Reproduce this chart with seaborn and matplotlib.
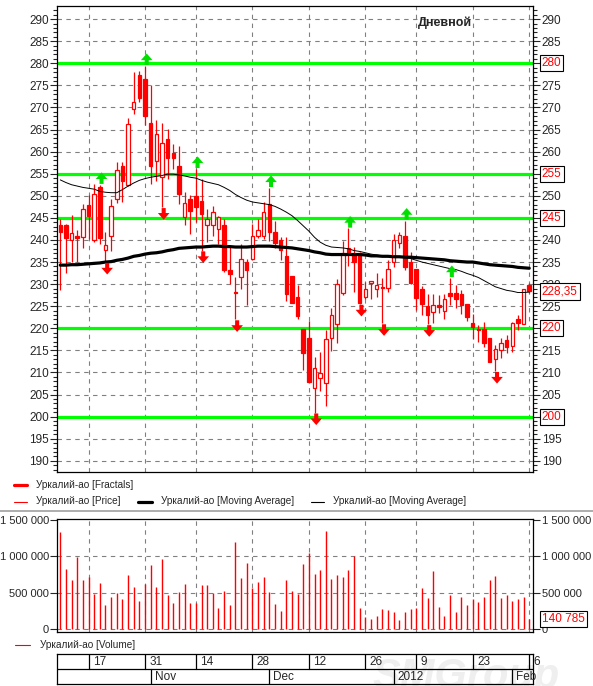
import numpy as np
import pandas as pd
import seaborn as sns
import matplotlib.pyplot as plt
from matplotlib.lines import Line2D
from matplotlib.path import Path
from matplotlib.ticker import MultipleLocator, FixedLocator, FuncFormatter

sns.set_style("white")
plt.rcParams['font.family'] = ['Liberation Sans', 'DejaVu Sans']

# daily candles, Oct 10 2011 .. Feb 6 2012 (trading day index)
opens = [243.3, 243.3, 240.0, 240.8, 240.6, 248.0, 240.1, 252.1, 237.8, 240.9,
         249.3, 256.8, 252.5, 269.6, 277.4, 276.4, 266.5, 257.8, 254.2, 262.8,
         259.8, 256.8, 245.2, 249.2, 249.9, 248.9, 243.4, 243.4, 242.4, 243.4,
         233.3, 228.3, 231.6, 234.9, 235.8, 240.9, 240.9, 248.2, 241.9, 240.1,
         236.3, 231.8, 227.0, 219.8, 217.9, 206.4, 208.7, 207.7, 217.8, 220.9,
         227.9, 238.2, 236.7, 237.1, 227.0, 230.3, 229.0, 229.4, 229.2, 235.0,
         239.4, 241.0, 234.9, 233.5, 228.8, 225.0, 223.6, 225.2, 223.9, 228.1,
         227.9, 227.7, 225.4, 221.1, 219.9, 219.8, 217.9, 213.0, 215.1, 217.3,
         216.0, 222.1, 220.9, 229.7]
highs = [244.8, 243.7, 245.7, 242.2, 248.2, 250.1, 252.7, 252.5, 241.8, 249.2,
         257.6, 257.6, 267.6, 278.0, 278.3, 279.4, 275.1, 267.1, 266.5, 265.1,
         261.7, 261.2, 250.8, 250.1, 256.1, 253.7, 247.0, 247.8, 245.4, 244.8,
         238.4, 231.6, 239.1, 235.8, 243.7, 244.8, 248.5, 251.8, 244.2, 240.6,
         240.6, 231.8, 229.7, 219.8, 221.7, 213.4, 214.7, 219.6, 224.5, 231.2,
         239.7, 242.6, 238.4, 237.2, 230.5, 230.8, 232.6, 231.4, 235.4, 241.4,
         241.8, 244.4, 237.3, 233.5, 229.5, 227.7, 227.7, 227.5, 227.7, 231.4,
         229.7, 228.6, 225.4, 223.3, 220.7, 221.5, 217.9, 216.2, 217.8, 218.5,
         221.5, 223.0, 229.0, 230.3]
lows = [228.6, 232.6, 235.0, 235.0, 238.2, 240.3, 239.5, 239.1, 235.0, 237.6,
        248.3, 248.5, 252.3, 268.6, 271.3, 266.0, 252.7, 253.4, 247.4, 253.8,
        256.1, 248.2, 243.3, 241.4, 244.0, 237.6, 239.5, 241.0, 239.1, 232.7,
        230.0, 222.0, 229.0, 225.2, 235.4, 240.4, 240.3, 239.7, 238.2, 235.4,
        226.2, 225.7, 222.2, 210.5, 207.9, 200.9, 205.7, 202.5, 214.9, 216.6,
        227.5, 234.1, 228.2, 225.5, 226.7, 226.7, 227.1, 221.1, 228.2, 233.9,
        238.2, 233.1, 230.1, 224.1, 223.1, 220.9, 221.2, 223.5, 222.2, 225.2,
        224.6, 223.3, 221.6, 217.5, 216.9, 215.8, 212.3, 210.3, 213.2, 214.3,
        214.7, 219.6, 220.9, 228.1]
closes = [241.8, 240.4, 241.6, 240.4, 247.0, 245.5, 250.4, 240.4, 238.9, 247.6,
          255.8, 253.4, 266.2, 271.3, 272.2, 268.1, 256.7, 264.0, 261.9, 258.5,
          258.5, 250.4, 248.4, 246.5, 247.4, 245.9, 244.8, 246.4, 245.2, 233.1,
          232.3, 228.1, 235.8, 233.3, 241.0, 242.2, 246.4, 241.8, 239.4, 237.8,
          227.7, 225.7, 222.8, 214.5, 207.9, 210.9, 209.8, 217.5, 223.1, 230.1,
          237.0, 237.0, 234.9, 225.7, 229.0, 230.8, 229.7, 229.2, 233.5, 239.9,
          241.2, 233.9, 230.3, 226.9, 225.6, 223.0, 225.2, 224.8, 226.7, 227.3,
          226.6, 225.2, 222.6, 220.2, 219.7, 216.6, 212.3, 215.4, 216.6, 215.8,
          221.2, 221.3, 228.8, 228.35]
volume = [1336000, 825000, 675000, 994000, 675000, 720000, 483000, 638000, 333000, 442000,
          502000, 415000, 748000, 584000, 388000, 625000, 880000, 584000, 962000, 470000,
          365000, 506000, 620000, 365000, 365000, 606000, 606000, 502000, 292000, 524000,
          337000, 1199000, 707000, 912000, 570000, 647000, 720000, 506000, 351000, 251000,
          675000, 524000, 483000, 894000, 1040000, 757000, 812000, 1345000, 689000, 743000,
          720000, 812000, 1008000, 292000, 164000, 137000, 182000, 278000, 264000, 233000,
          128000, 237000, 278000, 296000, 565000, 429000, 798000, 310000, 182000, 470000,
          237000, 442000, 333000, 415000, 374000, 442000, 675000, 730000, 429000, 470000,
          388000, 415000, 442000, 140785]
ma_slow = [234.3, 234.3, 234.4, 234.4, 234.5, 234.6, 234.7, 234.8, 235.0, 235.1,
           235.4, 235.6, 235.9, 236.3, 236.5, 236.8, 237.0, 237.1, 237.3, 237.6,
           237.8, 238.1, 238.2, 238.3, 238.4, 238.4, 238.5, 238.6, 238.6, 238.5,
           238.5, 238.4, 238.4, 238.4, 238.5, 238.6, 238.6, 238.6, 238.5, 238.4,
           238.3, 238.2, 238.0, 237.8, 237.6, 237.3, 237.1, 236.8, 236.7, 236.7,
           236.7, 236.7, 236.7, 236.7, 236.6, 236.4, 236.4, 236.3, 236.3, 236.2,
           236.2, 236.1, 236.1, 236.0, 235.9, 235.8, 235.7, 235.6, 235.5, 235.3,
           235.2, 235.1, 235.0, 235.0, 234.8, 234.6, 234.4, 234.3, 234.2, 234.1,
           234.0, 233.8, 233.7, 233.6]
ma_fast = [253.6, 253.0, 252.5, 252.2, 251.9, 251.7, 251.5, 251.0, 250.8, 250.7,
           250.7, 251.4, 252.2, 252.9, 253.5, 253.9, 254.2, 254.4, 254.6, 254.9,
           254.9, 254.7, 254.5, 254.2, 254.0, 253.5, 253.1, 252.8, 252.5, 251.9,
           251.2, 250.3, 249.6, 249.0, 248.6, 248.4, 248.2, 248.0, 247.6, 247.0,
           246.3, 245.5, 244.4, 243.2, 242.0, 240.6, 239.5, 238.8, 238.4, 238.3,
           238.2, 238.0, 237.6, 237.4, 237.1, 236.8, 236.6, 236.4, 236.3, 236.2,
           236.1, 236.0, 235.8, 235.4, 235.0, 234.7, 234.4, 234.1, 233.8, 233.5,
           233.3, 232.9, 232.4, 232.0, 231.5, 230.8, 230.1, 229.4, 229.0, 228.6,
           228.4, 228.1, 228.1, 228.2]
fractal_up = [7, 15, 24, 37, 51, 61, 69]
fractal_down = [8, 18, 25, 31, 45, 53, 57, 65, 77]
level_lines = [280, 255, 245, 220, 200]

day_ticks = [5, 15, 24, 34, 44, 54, 63, 73, 83]
day_labels = ['17', '31', '14', '28', '12', '26', '9', '23', '6']
month_starts = [16, 37, 59, 80]
month_labels = ['Nov', 'Dec', '2012', 'Feb']

df = pd.DataFrame({'open': opens, 'high': highs, 'low': lows, 'close': closes,
                   'volume': volume, 'ma_slow': ma_slow, 'ma_fast': ma_fast})
df['idx'] = np.arange(len(df))

RED = '#ff0000'
GREEN = '#00ff00'
GRID = '#808080'
W, H = 593, 686
LEG_FS = 7.2


def fx(px):
    return px / W


def fy(py):
    return 1 - py / H


def ru(v):
    return f'{int(v):,}'.replace(',', ' ')


fig = plt.figure(figsize=(W / 100, H / 100), dpi=100)
xlim = (-0.53, 83.72)

# watermark, behind everything
fig.text(fx(372), fy(688), 'SMGroup', fontsize=30, fontstyle='italic', fontweight='bold',
         color='#efefef', ha='left', va='baseline', zorder=-1)

# ---------------- price panel
ax = fig.add_axes([fx(57.3), fy(472.3), fx(476), 466 / H])
ax.set_xlim(*xlim)
ax.set_ylim(187.4, 292.9)
for y in range(190, 295, 5):
    ax.axhline(y, color=GRID, lw=0.8, ls=(0, (4, 4)), zorder=1)
for t in day_ticks:
    ax.axvline(t, color=GRID, lw=0.8, ls=(0, (4, 4)), zorder=1)
for y in level_lines:
    ax.axhline(y, color=GREEN, lw=2.3, zorder=2)

ax.vlines(df['idx'], df['low'], df['high'], color=RED, lw=0.9, zorder=3)
up = df['close'] > df['open']
body_lo = np.minimum(df['open'], df['close'])
body_h = np.maximum((df['close'] - df['open']).abs(), 0.12)
ax.bar(df['idx'][up], body_h[up], bottom=body_lo[up], width=0.62,
       facecolor='white', edgecolor=RED, lw=0.9, zorder=4)
ax.bar(df['idx'][~up], body_h[~up], bottom=body_lo[~up], width=0.62,
       facecolor=RED, edgecolor=RED, lw=0.9, zorder=4)

sns.lineplot(data=df, x='idx', y='ma_slow', ax=ax, color='black', lw=2.3, zorder=5)
sns.lineplot(data=df, x='idx', y='ma_fast', ax=ax, color='black', lw=0.7, zorder=5)

up_arrow = Path([(-0.35, -1), (0.35, -1), (0.35, -0.15), (1, -0.15), (0, 1),
                 (-1, -0.15), (-0.35, -0.15), (-0.35, -1)])
down_arrow = Path([(-0.35, 1), (0.35, 1), (0.35, 0.15), (1, 0.15), (0, -1),
                   (-1, 0.15), (-0.35, 0.15), (-0.35, 1)])
fu = df.loc[fractal_up]
fd = df.loc[fractal_down]
sns.scatterplot(x=fu['idx'] + 0.3, y=fu['high'] + 1.5, ax=ax, marker=up_arrow,
                s=70, color='#00e000', edgecolor='none', zorder=6)
sns.scatterplot(x=fd['idx'] + 0.3, y=fd['low'] - 1.5, ax=ax, marker=down_arrow,
                s=70, color=RED, edgecolor='none', zorder=6)

ax.set_xlabel('')
ax.set_ylabel('')
ax.set_xticks([])
ax.yaxis.set_major_locator(MultipleLocator(5))
ax.yaxis.set_minor_locator(MultipleLocator(1))
ax.tick_params(axis='y', which='major', left=True, right=True, labelleft=True,
               labelright=True, length=5, width=0.8, pad=1, labelsize=8.5)
ax.tick_params(axis='y', which='minor', left=True, right=True, length=3, width=0.8)
for s in ax.spines.values():
    s.set_color('black')
    s.set_linewidth(0.9)

ax.text(0.757, 0.965, 'Дневной', transform=ax.transAxes,
        fontsize=9, fontweight='bold', ha='left', va='center')

box = dict(boxstyle='square,pad=0.18', facecolor='white', edgecolor='black', lw=0.8)
for y in level_lines:
    ax.text(1.0176, y, f'{y}', transform=ax.get_yaxis_transform(), color=RED,
            fontsize=8.5, ha='left', va='center', bbox=box, zorder=10, clip_on=False)
ax.text(1.0176, closes[-1], f'{closes[-1]:.2f}'.replace('.', ','),
        transform=ax.get_yaxis_transform(), color=RED, fontsize=8.5, ha='left',
        va='center', bbox=box, zorder=10, clip_on=False)

# ---------------- legend rows
fig.add_artist(Line2D([fx(13.5), fx(27)], [fy(485)] * 2, color=RED, lw=2.3))
fig.text(fx(35.5), fy(485), 'Уркалий-ао [Fractals]', fontsize=LEG_FS, va='center')
fig.add_artist(Line2D([fx(13.5), fx(27)], [fy(501.5)] * 2, color=RED, lw=0.8))
fig.text(fx(35.5), fy(501.5), 'Уркалий-ао [Price]', fontsize=LEG_FS, va='center')
fig.add_artist(Line2D([fx(138), fx(152)], [fy(501.5)] * 2, color='black', lw=2.3))
fig.text(fx(161), fy(501.5), 'Уркалий-ао [Moving Average]', fontsize=LEG_FS, va='center')
fig.add_artist(Line2D([fx(311), fx(324)], [fy(501.5)] * 2, color='black', lw=0.8))
fig.text(fx(333), fy(501.5), 'Уркалий-ао [Moving Average]', fontsize=LEG_FS, va='center')
fig.add_artist(Line2D([0, 1], [fy(511)] * 2, color='#a0a0a0', lw=1.2))

# ---------------- volume panel
vx = fig.add_axes([fx(57.3), fy(631.7), fx(476), 112.7 / H])
vx.set_facecolor('none')
vx.set_xlim(*xlim)
vx.set_ylim(-33000, 1510000)
for y in [0, 500000, 1000000]:
    vx.axhline(y, color=GRID, lw=0.8, ls=(0, (4, 4)), zorder=1)
for t in day_ticks:
    vx.axvline(t, color=GRID, lw=0.8, ls=(0, (4, 4)), zorder=1)
vx.vlines(df['idx'], 0, df['volume'], color=RED, lw=1.0, zorder=3)
vx.set_xticks([])
vx.yaxis.set_major_locator(FixedLocator([0, 500000, 1000000, 1500000]))
vx.yaxis.set_major_formatter(FuncFormatter(lambda v, p: ru(v)))
vx.tick_params(axis='y', left=True, right=True, labelleft=True, labelright=True,
               length=5, width=0.8, pad=1, labelsize=8)
for s in vx.spines.values():
    s.set_color('black')
    s.set_linewidth(0.9)
vx.text(1.0176, volume[-1], ru(volume[-1]), transform=vx.get_yaxis_transform(),
        color=RED, fontsize=8.5, ha='left', va='center', bbox=box, zorder=10, clip_on=False)

fig.add_artist(Line2D([fx(15), fx(30)], [fy(645)] * 2, color=RED, lw=0.8))
fig.text(fx(40.5), fy(645), 'Уркалий-ао [Volume]', fontsize=LEG_FS, va='center')

# ---------------- date table
tb = fig.add_axes([fx(57.3), fy(684), fx(476), 29.7 / H])
tb.set_facecolor('none')
tb.set_xlim(*xlim)
tb.set_ylim(0, 2)
tb.set_xticks([])
tb.set_yticks([])
for s in tb.spines.values():
    s.set_color('black')
    s.set_linewidth(0.9)
tb.axhline(1, color='black', lw=0.9)
for t, lab in zip(day_ticks, day_labels):
    tb.plot([t, t], [1, 2], color='black', lw=0.9)
    tb.text(t + 0.8, 1.5, lab, fontsize=8.5, ha='left', va='center', clip_on=False)
for t, lab in zip(month_starts, month_labels):
    tb.plot([t, t], [0, 1], color='black', lw=0.9)
    tb.text(t + 0.7, 0.5, lab, fontsize=8.5, ha='left', va='center', clip_on=False)

fig.savefig('out.png', dpi=100)
